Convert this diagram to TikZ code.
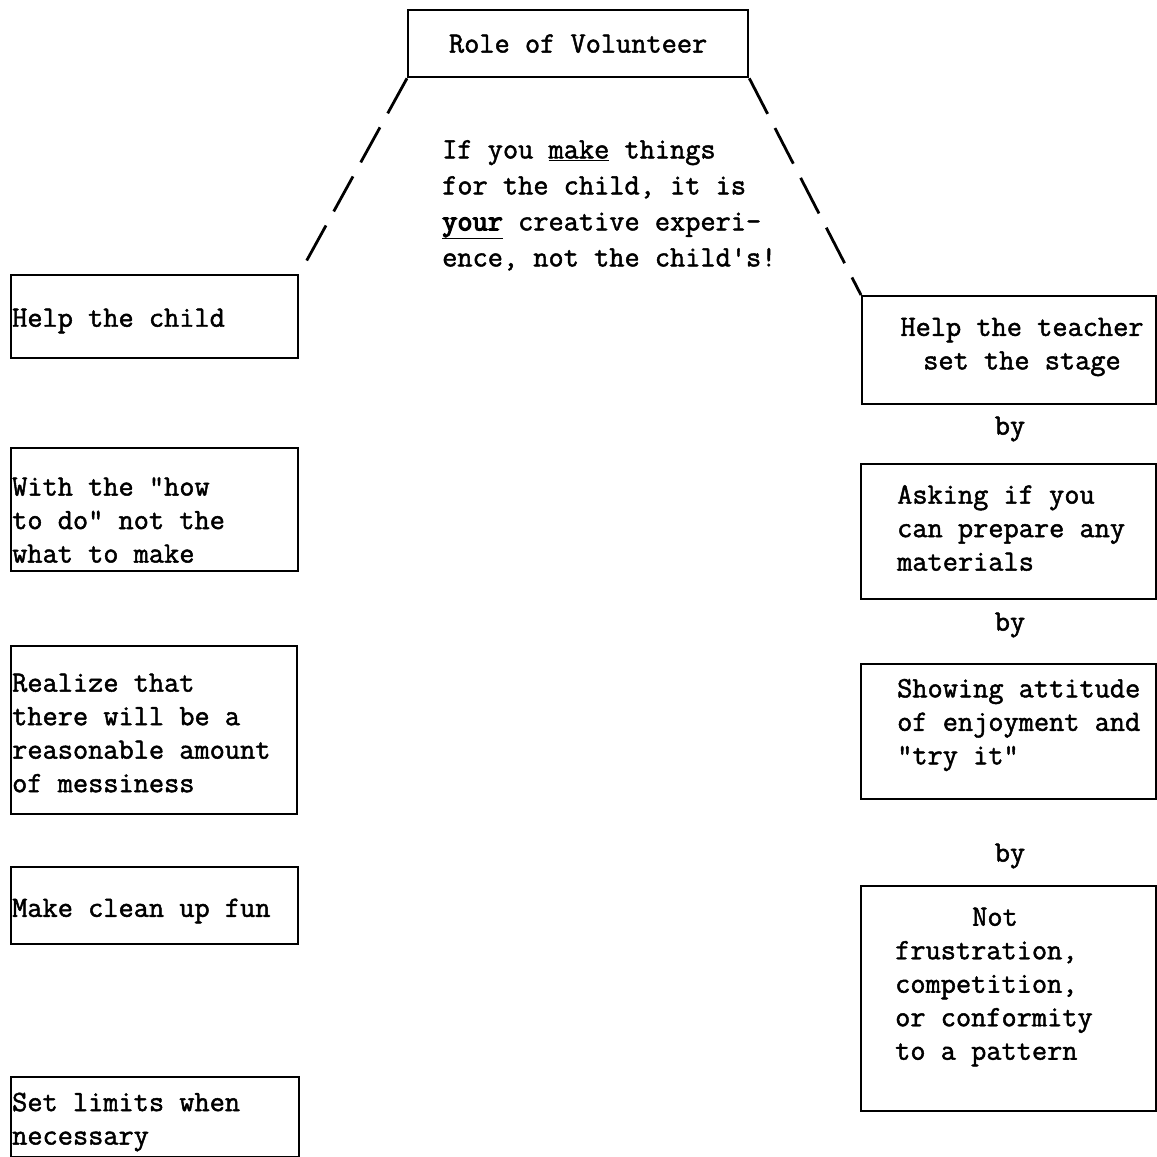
\documentclass[tikz,border=0pt]{standalone}
\usepackage{fontspec}
\newfontfamily\tw{Latin Modern Mono}[FakeBold=1.6]
\newfontfamily\twb{Latin Modern Mono}[FakeBold=4]
\begin{document}
\begin{tikzpicture}[x=1pt,y=-1pt,
  box/.style={draw, line width=2.3pt, inner sep=0pt, anchor=north west},
  txt/.style={inner sep=0pt, align=left, font=\tw\fontsize{29.5}{33.5}\selectfont},
  notetxt/.style={inner sep=0pt, align=left, font=\tw\fontsize{29.5}{36}\selectfont},
  link/.style={line width=2.8pt, dash pattern=on 40pt off 16pt}]
\useasboundingbox[fill=white] (0,0) rectangle (1157,1157);
% top
\node[box, txt, minimum width=340, minimum height=67] (top) at (407,9) {Role of Volunteer};
\node[notetxt, anchor=north west] (note) at (442,140)
  {If you \underline{make} things\\for the child, it is\\{\twb\underline{your}} creative experi-\\ence, not the child's!};
% left column
\node[box, minimum width=287, minimum height=83] (c1) at (10,274) {};
\node[txt, anchor=west] (c1t) at (12,321) {Help the child};
\node[box, minimum width=287, minimum height=123] (c2) at (10,447) {};
\node[txt, anchor=west] (c2t) at (12,520) {With the "how\\to do" not the\\what to make};
\node[box, minimum width=286, minimum height=168] (c3) at (10,645) {};
\node[txt, anchor=west] (c3t) at (12,733) {Realize that\\there will be a\\reasonable amount\\of messiness};
\node[box, minimum width=287, minimum height=77] (c4) at (10,866) {};
\node[txt, anchor=west] (c4t) at (12,911) {Make clean up fun};
\node[box, minimum width=288, minimum height=80] (c5) at (10,1076) {};
\node[txt, anchor=west] (c5t) at (12,1122) {Set limits when\\necessary};
% right column
\node[box, minimum width=294, minimum height=108] (r1) at (861,295) {};
\node[txt, align=center] (r1t) at (1022,347) {Help the teacher\\set the stage};
\node[txt] (by1) at (1010,429) {by};
\node[box, minimum width=295, minimum height=135] (r2) at (860,463) {};
\node[txt, anchor=west] (r2t) at (897,528) {Asking if you\\can prepare any\\materials};
\node[txt] (by2) at (1010,625) {by};
\node[box, minimum width=295, minimum height=135] (r3) at (860,663) {};
\node[txt, anchor=west] (r3t) at (897,725) {Showing attitude\\of enjoyment and\\"try it"};
\node[txt] (by3) at (1010,856) {by};
\node[box, minimum width=295, minimum height=225] (r4) at (860,885) {};
\node[txt, anchor=west] (r4t) at (895,987) {\hspace*{77pt}Not\\frustration,\\competition,\\or conformity\\to a pattern};
% connectors
\draw[link] (top.south west) -- (c1.north east);
\draw[link] (top.south east) -- (r1.north west);
\end{tikzpicture}
\end{document}
